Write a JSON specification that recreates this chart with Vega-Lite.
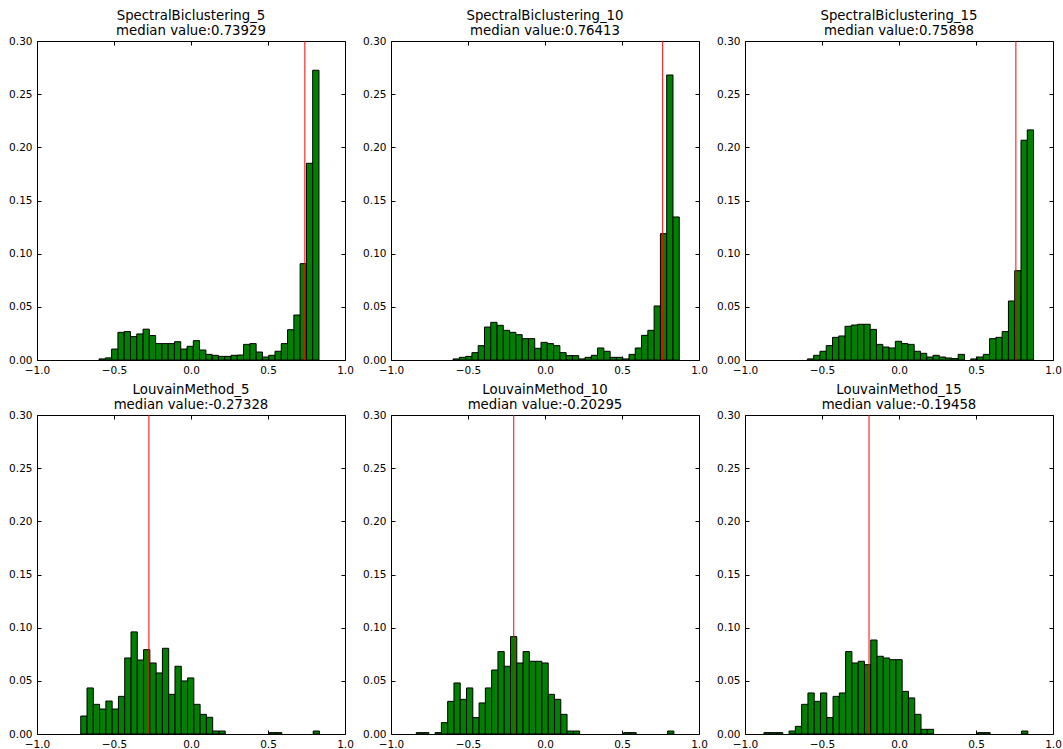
{
  "$schema": "https://vega.github.io/schema/vega-lite/v6.json",
  "background": "white",
  "padding": {"left": 8, "top": 8, "right": 5, "bottom": 5},
  "datasets": {
    "hist": [
      {"panel": "S5", "start": -0.597, "end": -0.5562, "density": 0.001},
      {"panel": "S5", "start": -0.5562, "end": -0.5154, "density": 0.002},
      {"panel": "S5", "start": -0.5154, "end": -0.4746, "density": 0.0103},
      {"panel": "S5", "start": -0.4746, "end": -0.4338, "density": 0.026},
      {"panel": "S5", "start": -0.4338, "end": -0.393, "density": 0.0267},
      {"panel": "S5", "start": -0.393, "end": -0.3522, "density": 0.022},
      {"panel": "S5", "start": -0.3522, "end": -0.3114, "density": 0.0245},
      {"panel": "S5", "start": -0.3114, "end": -0.2706, "density": 0.029},
      {"panel": "S5", "start": -0.2706, "end": -0.2298, "density": 0.023},
      {"panel": "S5", "start": -0.2298, "end": -0.189, "density": 0.0154},
      {"panel": "S5", "start": -0.189, "end": -0.1482, "density": 0.0154},
      {"panel": "S5", "start": -0.1482, "end": -0.1074, "density": 0.0154},
      {"panel": "S5", "start": -0.1074, "end": -0.0666, "density": 0.0172},
      {"panel": "S5", "start": -0.0666, "end": -0.0258, "density": 0.0103},
      {"panel": "S5", "start": -0.0258, "end": 0.015, "density": 0.0129},
      {"panel": "S5", "start": 0.015, "end": 0.0558, "density": 0.0182},
      {"panel": "S5", "start": 0.0558, "end": 0.0966, "density": 0.0094},
      {"panel": "S5", "start": 0.0966, "end": 0.1374, "density": 0.0053},
      {"panel": "S5", "start": 0.1374, "end": 0.1782, "density": 0.0044},
      {"panel": "S5", "start": 0.1782, "end": 0.219, "density": 0.0034},
      {"panel": "S5", "start": 0.219, "end": 0.2598, "density": 0.0034},
      {"panel": "S5", "start": 0.2598, "end": 0.3006, "density": 0.0044},
      {"panel": "S5", "start": 0.3006, "end": 0.3414, "density": 0.0047},
      {"panel": "S5", "start": 0.3414, "end": 0.3822, "density": 0.0147},
      {"panel": "S5", "start": 0.3822, "end": 0.423, "density": 0.0154},
      {"panel": "S5", "start": 0.423, "end": 0.4638, "density": 0.0075},
      {"panel": "S5", "start": 0.4638, "end": 0.5046, "density": 0.0028},
      {"panel": "S5", "start": 0.5046, "end": 0.5454, "density": 0.0044},
      {"panel": "S5", "start": 0.5454, "end": 0.5862, "density": 0.0082},
      {"panel": "S5", "start": 0.5862, "end": 0.627, "density": 0.0154},
      {"panel": "S5", "start": 0.627, "end": 0.6678, "density": 0.0285},
      {"panel": "S5", "start": 0.6678, "end": 0.7086, "density": 0.0423},
      {"panel": "S5", "start": 0.7086, "end": 0.7494, "density": 0.0906},
      {"panel": "S5", "start": 0.7494, "end": 0.7902, "density": 0.185},
      {"panel": "S5", "start": 0.7902, "end": 0.831, "density": 0.2725},

      {"panel": "S10", "start": -0.597, "end": -0.5562, "density": 0.001},
      {"panel": "S10", "start": -0.5562, "end": -0.5154, "density": 0.0025},
      {"panel": "S10", "start": -0.5154, "end": -0.4746, "density": 0.0034},
      {"panel": "S10", "start": -0.4746, "end": -0.4338, "density": 0.0069},
      {"panel": "S10", "start": -0.4338, "end": -0.393, "density": 0.0135},
      {"panel": "S10", "start": -0.393, "end": -0.3522, "density": 0.031},
      {"panel": "S10", "start": -0.3522, "end": -0.3114, "density": 0.0354},
      {"panel": "S10", "start": -0.3114, "end": -0.2706, "density": 0.0326},
      {"panel": "S10", "start": -0.2706, "end": -0.2298, "density": 0.0279},
      {"panel": "S10", "start": -0.2298, "end": -0.189, "density": 0.026},
      {"panel": "S10", "start": -0.189, "end": -0.1482, "density": 0.0238},
      {"panel": "S10", "start": -0.1482, "end": -0.1074, "density": 0.0201},
      {"panel": "S10", "start": -0.1074, "end": -0.0666, "density": 0.0201},
      {"panel": "S10", "start": -0.0666, "end": -0.0258, "density": 0.011},
      {"panel": "S10", "start": -0.0258, "end": 0.015, "density": 0.0166},
      {"panel": "S10", "start": 0.015, "end": 0.0558, "density": 0.0154},
      {"panel": "S10", "start": 0.0558, "end": 0.0966, "density": 0.0135},
      {"panel": "S10", "start": 0.0966, "end": 0.1374, "density": 0.0069},
      {"panel": "S10", "start": 0.1374, "end": 0.1782, "density": 0.0041},
      {"panel": "S10", "start": 0.1782, "end": 0.219, "density": 0.0041},
      {"panel": "S10", "start": 0.219, "end": 0.2598, "density": 0.001},
      {"panel": "S10", "start": 0.2598, "end": 0.3006, "density": 0.0025},
      {"panel": "S10", "start": 0.3006, "end": 0.3414, "density": 0.0044},
      {"panel": "S10", "start": 0.3414, "end": 0.3822, "density": 0.0113},
      {"panel": "S10", "start": 0.3822, "end": 0.423, "density": 0.0082},
      {"panel": "S10", "start": 0.423, "end": 0.4638, "density": 0.0025},
      {"panel": "S10", "start": 0.4638, "end": 0.5046, "density": 0.0025},
      {"panel": "S10", "start": 0.5046, "end": 0.5454, "density": 0.001},
      {"panel": "S10", "start": 0.5454, "end": 0.5862, "density": 0.0053},
      {"panel": "S10", "start": 0.5862, "end": 0.627, "density": 0.0113},
      {"panel": "S10", "start": 0.627, "end": 0.6678, "density": 0.0232},
      {"panel": "S10", "start": 0.6678, "end": 0.7086, "density": 0.0279},
      {"panel": "S10", "start": 0.7086, "end": 0.7494, "density": 0.0508},
      {"panel": "S10", "start": 0.7494, "end": 0.7902, "density": 0.1188},
      {"panel": "S10", "start": 0.7902, "end": 0.831, "density": 0.268},
      {"panel": "S10", "start": 0.831, "end": 0.8718, "density": 0.1345},

      {"panel": "S15", "start": -0.595, "end": -0.5542, "density": 0.001},
      {"panel": "S15", "start": -0.5542, "end": -0.5134, "density": 0.0044},
      {"panel": "S15", "start": -0.5134, "end": -0.4726, "density": 0.0082},
      {"panel": "S15", "start": -0.4726, "end": -0.4318, "density": 0.0135},
      {"panel": "S15", "start": -0.4318, "end": -0.391, "density": 0.0213},
      {"panel": "S15", "start": -0.391, "end": -0.3502, "density": 0.0226},
      {"panel": "S15", "start": -0.3502, "end": -0.3094, "density": 0.0317},
      {"panel": "S15", "start": -0.3094, "end": -0.2686, "density": 0.0329},
      {"panel": "S15", "start": -0.2686, "end": -0.2278, "density": 0.0336},
      {"panel": "S15", "start": -0.2278, "end": -0.187, "density": 0.0336},
      {"panel": "S15", "start": -0.187, "end": -0.1462, "density": 0.0288},
      {"panel": "S15", "start": -0.1462, "end": -0.1054, "density": 0.0147},
      {"panel": "S15", "start": -0.1054, "end": -0.0646, "density": 0.0122},
      {"panel": "S15", "start": -0.0646, "end": -0.0238, "density": 0.0113},
      {"panel": "S15", "start": -0.0238, "end": 0.017, "density": 0.0176},
      {"panel": "S15", "start": 0.017, "end": 0.0578, "density": 0.0154},
      {"panel": "S15", "start": 0.0578, "end": 0.0986, "density": 0.0147},
      {"panel": "S15", "start": 0.0986, "end": 0.1394, "density": 0.0082},
      {"panel": "S15", "start": 0.1394, "end": 0.1802, "density": 0.0063},
      {"panel": "S15", "start": 0.1802, "end": 0.221, "density": 0.0028},
      {"panel": "S15", "start": 0.221, "end": 0.2618, "density": 0.0044},
      {"panel": "S15", "start": 0.2618, "end": 0.3026, "density": 0.0028},
      {"panel": "S15", "start": 0.3026, "end": 0.3434, "density": 0.0019},
      {"panel": "S15", "start": 0.3434, "end": 0.3842, "density": 0.0013},
      {"panel": "S15", "start": 0.3842, "end": 0.425, "density": 0.0053},
      {"panel": "S15", "start": 0.4658, "end": 0.5066, "density": 0.001},
      {"panel": "S15", "start": 0.5066, "end": 0.5474, "density": 0.0028},
      {"panel": "S15", "start": 0.5474, "end": 0.5882, "density": 0.0053},
      {"panel": "S15", "start": 0.5882, "end": 0.629, "density": 0.0201},
      {"panel": "S15", "start": 0.629, "end": 0.6698, "density": 0.0213},
      {"panel": "S15", "start": 0.6698, "end": 0.7106, "density": 0.0267},
      {"panel": "S15", "start": 0.7106, "end": 0.7514, "density": 0.0555},
      {"panel": "S15", "start": 0.7514, "end": 0.7922, "density": 0.084},
      {"panel": "S15", "start": 0.7922, "end": 0.833, "density": 0.2067},
      {"panel": "S15", "start": 0.833, "end": 0.8738, "density": 0.2164},

      {"panel": "L5", "start": -0.716, "end": -0.6752, "density": 0.0169},
      {"panel": "L5", "start": -0.6752, "end": -0.6344, "density": 0.0433},
      {"panel": "L5", "start": -0.6344, "end": -0.5936, "density": 0.0279},
      {"panel": "L5", "start": -0.5936, "end": -0.5528, "density": 0.0235},
      {"panel": "L5", "start": -0.5528, "end": -0.512, "density": 0.031},
      {"panel": "L5", "start": -0.512, "end": -0.4712, "density": 0.0235},
      {"panel": "L5", "start": -0.4712, "end": -0.4304, "density": 0.0354},
      {"panel": "L5", "start": -0.4304, "end": -0.3896, "density": 0.0715},
      {"panel": "L5", "start": -0.3896, "end": -0.3488, "density": 0.096},
      {"panel": "L5", "start": -0.3488, "end": -0.308, "density": 0.0696},
      {"panel": "L5", "start": -0.308, "end": -0.2672, "density": 0.0793},
      {"panel": "L5", "start": -0.2672, "end": -0.2264, "density": 0.0668},
      {"panel": "L5", "start": -0.2264, "end": -0.1856, "density": 0.0574},
      {"panel": "L5", "start": -0.1856, "end": -0.1448, "density": 0.0806},
      {"panel": "L5", "start": -0.1448, "end": -0.104, "density": 0.0373},
      {"panel": "L5", "start": -0.104, "end": -0.0632, "density": 0.0637},
      {"panel": "L5", "start": -0.0632, "end": -0.0224, "density": 0.0499},
      {"panel": "L5", "start": -0.0224, "end": 0.0184, "density": 0.0527},
      {"panel": "L5", "start": 0.0184, "end": 0.0592, "density": 0.0279},
      {"panel": "L5", "start": 0.0592, "end": 0.1, "density": 0.0185},
      {"panel": "L5", "start": 0.1, "end": 0.1408, "density": 0.0157},
      {"panel": "L5", "start": 0.1408, "end": 0.1816, "density": 0.0028},
      {"panel": "L5", "start": 0.1816, "end": 0.2224, "density": 0.0028},
      {"panel": "L5", "start": 0.508, "end": 0.5488, "density": 0.0013},
      {"panel": "L5", "start": 0.5488, "end": 0.5896, "density": 0.0013},
      {"panel": "L5", "start": 0.7936, "end": 0.8344, "density": 0.0028},

      {"panel": "L10", "start": -0.836, "end": -0.7952, "density": 0.0013},
      {"panel": "L10", "start": -0.7952, "end": -0.7544, "density": 0.0013},
      {"panel": "L10", "start": -0.7136, "end": -0.6728, "density": 0.0013},
      {"panel": "L10", "start": -0.6728, "end": -0.632, "density": 0.0107},
      {"panel": "L10", "start": -0.632, "end": -0.5912, "density": 0.0307},
      {"panel": "L10", "start": -0.5912, "end": -0.5504, "density": 0.048},
      {"panel": "L10", "start": -0.5504, "end": -0.5096, "density": 0.0326},
      {"panel": "L10", "start": -0.5096, "end": -0.4688, "density": 0.0433},
      {"panel": "L10", "start": -0.4688, "end": -0.428, "density": 0.0154},
      {"panel": "L10", "start": -0.428, "end": -0.3872, "density": 0.0292},
      {"panel": "L10", "start": -0.3872, "end": -0.3464, "density": 0.0433},
      {"panel": "L10", "start": -0.3464, "end": -0.3056, "density": 0.0602},
      {"panel": "L10", "start": -0.3056, "end": -0.2648, "density": 0.0775},
      {"panel": "L10", "start": -0.2648, "end": -0.224, "density": 0.0637},
      {"panel": "L10", "start": -0.224, "end": -0.1832, "density": 0.0916},
      {"panel": "L10", "start": -0.1832, "end": -0.1424, "density": 0.0668},
      {"panel": "L10", "start": -0.1424, "end": -0.1016, "density": 0.0775},
      {"panel": "L10", "start": -0.1016, "end": -0.0608, "density": 0.0684},
      {"panel": "L10", "start": -0.0608, "end": -0.02, "density": 0.0684},
      {"panel": "L10", "start": -0.02, "end": 0.0208, "density": 0.0668},
      {"panel": "L10", "start": 0.0208, "end": 0.0616, "density": 0.0373},
      {"panel": "L10", "start": 0.0616, "end": 0.1024, "density": 0.0326},
      {"panel": "L10", "start": 0.1024, "end": 0.1432, "density": 0.0185},
      {"panel": "L10", "start": 0.1432, "end": 0.184, "density": 0.0028},
      {"panel": "L10", "start": 0.184, "end": 0.2248, "density": 0.0028},
      {"panel": "L10", "start": 0.5104, "end": 0.5512, "density": 0.0013},
      {"panel": "L10", "start": 0.5512, "end": 0.592, "density": 0.0013},
      {"panel": "L10", "start": 0.796, "end": 0.8368, "density": 0.0028},

      {"panel": "L15", "start": -0.877, "end": -0.8362, "density": 0.0013},
      {"panel": "L15", "start": -0.8362, "end": -0.7954, "density": 0.0013},
      {"panel": "L15", "start": -0.7954, "end": -0.7546, "density": 0.0013},
      {"panel": "L15", "start": -0.7138, "end": -0.673, "density": 0.0028},
      {"panel": "L15", "start": -0.673, "end": -0.6322, "density": 0.0072},
      {"panel": "L15", "start": -0.6322, "end": -0.5914, "density": 0.0279},
      {"panel": "L15", "start": -0.5914, "end": -0.5506, "density": 0.0386},
      {"panel": "L15", "start": -0.5506, "end": -0.5098, "density": 0.0307},
      {"panel": "L15", "start": -0.5098, "end": -0.469, "density": 0.0386},
      {"panel": "L15", "start": -0.469, "end": -0.4282, "density": 0.0154},
      {"panel": "L15", "start": -0.4282, "end": -0.3874, "density": 0.0354},
      {"panel": "L15", "start": -0.3874, "end": -0.3466, "density": 0.0386},
      {"panel": "L15", "start": -0.3466, "end": -0.3058, "density": 0.0775},
      {"panel": "L15", "start": -0.3058, "end": -0.265, "density": 0.0668},
      {"panel": "L15", "start": -0.265, "end": -0.2242, "density": 0.0684},
      {"panel": "L15", "start": -0.2242, "end": -0.1834, "density": 0.0652},
      {"panel": "L15", "start": -0.1834, "end": -0.1426, "density": 0.0884},
      {"panel": "L15", "start": -0.1426, "end": -0.1018, "density": 0.0731},
      {"panel": "L15", "start": -0.1018, "end": -0.061, "density": 0.0715},
      {"panel": "L15", "start": -0.061, "end": -0.0202, "density": 0.0699},
      {"panel": "L15", "start": -0.0202, "end": 0.0206, "density": 0.0699},
      {"panel": "L15", "start": 0.0206, "end": 0.0614, "density": 0.0401},
      {"panel": "L15", "start": 0.0614, "end": 0.1022, "density": 0.0339},
      {"panel": "L15", "start": 0.1022, "end": 0.143, "density": 0.0185},
      {"panel": "L15", "start": 0.143, "end": 0.1838, "density": 0.0044},
      {"panel": "L15", "start": 0.1838, "end": 0.2246, "density": 0.0044},
      {"panel": "L15", "start": 0.5102, "end": 0.551, "density": 0.0013},
      {"panel": "L15", "start": 0.551, "end": 0.5918, "density": 0.0013},
      {"panel": "L15", "start": 0.7958, "end": 0.8366, "density": 0.0028}
    ],
    "medians": [
      {"panel": "S5", "median": 0.73929},
      {"panel": "S10", "median": 0.76413},
      {"panel": "S15", "median": 0.75898},
      {"panel": "L5", "median": -0.27328},
      {"panel": "L10", "median": -0.20295},
      {"panel": "L15", "median": -0.19458}
    ]
  },
  "columns": 3,
  "spacing": {"row": 55, "column": 46},
  "bounds": "flush",
  "concat": [
    {
      "width": 308, "height": 319,
      "title": {"text": ["SpectralBiclustering_5", "median value:0.73929"]},
      "layer": [
        {"data": {"name": "hist"}, "transform": [{"filter": "datum.panel === 'S5'"}],
         "mark": {"type": "bar", "fill": "#008000", "stroke": "black", "strokeWidth": 1},
         "encoding": {
           "x": {"field": "start", "type": "quantitative", "scale": {"domain": [-1, 1], "nice": false, "zero": false}, "axis": {"orient": "bottom", "values": [-1, -0.5, 0, 0.5, 1], "format": ".1f", "title": null}},
           "x2": {"field": "end"},
           "y": {"field": "density", "type": "quantitative", "scale": {"domain": [0, 0.3], "nice": false}, "axis": {"orient": "left", "values": [0, 0.05, 0.1, 0.15, 0.2, 0.25, 0.3], "format": ".2f", "title": null}},
           "y2": {"datum": 0}}},
        {"data": {"name": "hist"}, "transform": [{"filter": "datum.panel === 'S5'"}],
         "mark": {"type": "bar", "opacity": 0},
         "encoding": {
           "x": {"field": "start", "type": "quantitative", "axis": {"orient": "top", "values": [-1, -0.5, 0, 0.5, 1], "labels": false, "title": null}},
           "x2": {"field": "end"},
           "y": {"field": "density", "type": "quantitative", "axis": {"orient": "right", "values": [0, 0.05, 0.1, 0.15, 0.2, 0.25, 0.3], "labels": false, "title": null}},
           "y2": {"datum": 0}}},
        {"data": {"name": "medians"}, "transform": [{"filter": "datum.panel === 'S5'"}],
         "mark": {"type": "rule", "color": "#ff0000", "strokeWidth": 1},
         "encoding": {"x": {"field": "median", "type": "quantitative", "axis": null}}}
      ],
      "resolve": {"axis": {"x": "independent", "y": "independent"}}
    },
    {
      "width": 308, "height": 319,
      "title": {"text": ["SpectralBiclustering_10", "median value:0.76413"]},
      "layer": [
        {"data": {"name": "hist"}, "transform": [{"filter": "datum.panel === 'S10'"}],
         "mark": {"type": "bar", "fill": "#008000", "stroke": "black", "strokeWidth": 1},
         "encoding": {
           "x": {"field": "start", "type": "quantitative", "scale": {"domain": [-1, 1], "nice": false, "zero": false}, "axis": {"orient": "bottom", "values": [-1, -0.5, 0, 0.5, 1], "format": ".1f", "title": null}},
           "x2": {"field": "end"},
           "y": {"field": "density", "type": "quantitative", "scale": {"domain": [0, 0.3], "nice": false}, "axis": {"orient": "left", "values": [0, 0.05, 0.1, 0.15, 0.2, 0.25, 0.3], "format": ".2f", "title": null}},
           "y2": {"datum": 0}}},
        {"data": {"name": "hist"}, "transform": [{"filter": "datum.panel === 'S10'"}],
         "mark": {"type": "bar", "opacity": 0},
         "encoding": {
           "x": {"field": "start", "type": "quantitative", "axis": {"orient": "top", "values": [-1, -0.5, 0, 0.5, 1], "labels": false, "title": null}},
           "x2": {"field": "end"},
           "y": {"field": "density", "type": "quantitative", "axis": {"orient": "right", "values": [0, 0.05, 0.1, 0.15, 0.2, 0.25, 0.3], "labels": false, "title": null}},
           "y2": {"datum": 0}}},
        {"data": {"name": "medians"}, "transform": [{"filter": "datum.panel === 'S10'"}],
         "mark": {"type": "rule", "color": "#ff0000", "strokeWidth": 1},
         "encoding": {"x": {"field": "median", "type": "quantitative", "axis": null}}}
      ],
      "resolve": {"axis": {"x": "independent", "y": "independent"}}
    },
    {
      "width": 308, "height": 319,
      "title": {"text": ["SpectralBiclustering_15", "median value:0.75898"]},
      "layer": [
        {"data": {"name": "hist"}, "transform": [{"filter": "datum.panel === 'S15'"}],
         "mark": {"type": "bar", "fill": "#008000", "stroke": "black", "strokeWidth": 1},
         "encoding": {
           "x": {"field": "start", "type": "quantitative", "scale": {"domain": [-1, 1], "nice": false, "zero": false}, "axis": {"orient": "bottom", "values": [-1, -0.5, 0, 0.5, 1], "format": ".1f", "title": null}},
           "x2": {"field": "end"},
           "y": {"field": "density", "type": "quantitative", "scale": {"domain": [0, 0.3], "nice": false}, "axis": {"orient": "left", "values": [0, 0.05, 0.1, 0.15, 0.2, 0.25, 0.3], "format": ".2f", "title": null}},
           "y2": {"datum": 0}}},
        {"data": {"name": "hist"}, "transform": [{"filter": "datum.panel === 'S15'"}],
         "mark": {"type": "bar", "opacity": 0},
         "encoding": {
           "x": {"field": "start", "type": "quantitative", "axis": {"orient": "top", "values": [-1, -0.5, 0, 0.5, 1], "labels": false, "title": null}},
           "x2": {"field": "end"},
           "y": {"field": "density", "type": "quantitative", "axis": {"orient": "right", "values": [0, 0.05, 0.1, 0.15, 0.2, 0.25, 0.3], "labels": false, "title": null}},
           "y2": {"datum": 0}}},
        {"data": {"name": "medians"}, "transform": [{"filter": "datum.panel === 'S15'"}],
         "mark": {"type": "rule", "color": "#ff0000", "strokeWidth": 1},
         "encoding": {"x": {"field": "median", "type": "quantitative", "axis": null}}}
      ],
      "resolve": {"axis": {"x": "independent", "y": "independent"}}
    },
    {
      "width": 308, "height": 319,
      "title": {"text": ["LouvainMethod_5", "median value:-0.27328"]},
      "layer": [
        {"data": {"name": "hist"}, "transform": [{"filter": "datum.panel === 'L5'"}],
         "mark": {"type": "bar", "fill": "#008000", "stroke": "black", "strokeWidth": 1},
         "encoding": {
           "x": {"field": "start", "type": "quantitative", "scale": {"domain": [-1, 1], "nice": false, "zero": false}, "axis": {"orient": "bottom", "values": [-1, -0.5, 0, 0.5, 1], "format": ".1f", "title": null}},
           "x2": {"field": "end"},
           "y": {"field": "density", "type": "quantitative", "scale": {"domain": [0, 0.3], "nice": false}, "axis": {"orient": "left", "values": [0, 0.05, 0.1, 0.15, 0.2, 0.25, 0.3], "format": ".2f", "title": null}},
           "y2": {"datum": 0}}},
        {"data": {"name": "hist"}, "transform": [{"filter": "datum.panel === 'L5'"}],
         "mark": {"type": "bar", "opacity": 0},
         "encoding": {
           "x": {"field": "start", "type": "quantitative", "axis": {"orient": "top", "values": [-1, -0.5, 0, 0.5, 1], "labels": false, "title": null}},
           "x2": {"field": "end"},
           "y": {"field": "density", "type": "quantitative", "axis": {"orient": "right", "values": [0, 0.05, 0.1, 0.15, 0.2, 0.25, 0.3], "labels": false, "title": null}},
           "y2": {"datum": 0}}},
        {"data": {"name": "medians"}, "transform": [{"filter": "datum.panel === 'L5'"}],
         "mark": {"type": "rule", "color": "#ff0000", "strokeWidth": 1},
         "encoding": {"x": {"field": "median", "type": "quantitative", "axis": null}}}
      ],
      "resolve": {"axis": {"x": "independent", "y": "independent"}}
    },
    {
      "width": 308, "height": 319,
      "title": {"text": ["LouvainMethod_10", "median value:-0.20295"]},
      "layer": [
        {"data": {"name": "hist"}, "transform": [{"filter": "datum.panel === 'L10'"}],
         "mark": {"type": "bar", "fill": "#008000", "stroke": "black", "strokeWidth": 1},
         "encoding": {
           "x": {"field": "start", "type": "quantitative", "scale": {"domain": [-1, 1], "nice": false, "zero": false}, "axis": {"orient": "bottom", "values": [-1, -0.5, 0, 0.5, 1], "format": ".1f", "title": null}},
           "x2": {"field": "end"},
           "y": {"field": "density", "type": "quantitative", "scale": {"domain": [0, 0.3], "nice": false}, "axis": {"orient": "left", "values": [0, 0.05, 0.1, 0.15, 0.2, 0.25, 0.3], "format": ".2f", "title": null}},
           "y2": {"datum": 0}}},
        {"data": {"name": "hist"}, "transform": [{"filter": "datum.panel === 'L10'"}],
         "mark": {"type": "bar", "opacity": 0},
         "encoding": {
           "x": {"field": "start", "type": "quantitative", "axis": {"orient": "top", "values": [-1, -0.5, 0, 0.5, 1], "labels": false, "title": null}},
           "x2": {"field": "end"},
           "y": {"field": "density", "type": "quantitative", "axis": {"orient": "right", "values": [0, 0.05, 0.1, 0.15, 0.2, 0.25, 0.3], "labels": false, "title": null}},
           "y2": {"datum": 0}}},
        {"data": {"name": "medians"}, "transform": [{"filter": "datum.panel === 'L10'"}],
         "mark": {"type": "rule", "color": "#ff0000", "strokeWidth": 1},
         "encoding": {"x": {"field": "median", "type": "quantitative", "axis": null}}}
      ],
      "resolve": {"axis": {"x": "independent", "y": "independent"}}
    },
    {
      "width": 308, "height": 319,
      "title": {"text": ["LouvainMethod_15", "median value:-0.19458"]},
      "layer": [
        {"data": {"name": "hist"}, "transform": [{"filter": "datum.panel === 'L15'"}],
         "mark": {"type": "bar", "fill": "#008000", "stroke": "black", "strokeWidth": 1},
         "encoding": {
           "x": {"field": "start", "type": "quantitative", "scale": {"domain": [-1, 1], "nice": false, "zero": false}, "axis": {"orient": "bottom", "values": [-1, -0.5, 0, 0.5, 1], "format": ".1f", "title": null}},
           "x2": {"field": "end"},
           "y": {"field": "density", "type": "quantitative", "scale": {"domain": [0, 0.3], "nice": false}, "axis": {"orient": "left", "values": [0, 0.05, 0.1, 0.15, 0.2, 0.25, 0.3], "format": ".2f", "title": null}},
           "y2": {"datum": 0}}},
        {"data": {"name": "hist"}, "transform": [{"filter": "datum.panel === 'L15'"}],
         "mark": {"type": "bar", "opacity": 0},
         "encoding": {
           "x": {"field": "start", "type": "quantitative", "axis": {"orient": "top", "values": [-1, -0.5, 0, 0.5, 1], "labels": false, "title": null}},
           "x2": {"field": "end"},
           "y": {"field": "density", "type": "quantitative", "axis": {"orient": "right", "values": [0, 0.05, 0.1, 0.15, 0.2, 0.25, 0.3], "labels": false, "title": null}},
           "y2": {"datum": 0}}},
        {"data": {"name": "medians"}, "transform": [{"filter": "datum.panel === 'L15'"}],
         "mark": {"type": "rule", "color": "#ff0000", "strokeWidth": 1},
         "encoding": {"x": {"field": "median", "type": "quantitative", "axis": null}}}
      ],
      "resolve": {"axis": {"x": "independent", "y": "independent"}}
    }
  ],
  "config": {
    "font": "DejaVu Sans",
    "view": {"stroke": "black", "strokeWidth": 1},
    "axis": {"grid": false, "domain": false, "tickColor": "black", "tickWidth": 1, "tickSize": -4, "labelPadding": 9, "labelColor": "black", "labelFont": "DejaVu Sans", "labelFontSize": 10.5, "labelFlush": false, "labelOverlap": false},
    "title": {"font": "DejaVu Sans", "fontSize": 13.3, "fontWeight": "normal", "color": "black", "offset": -1, "lineHeight": 15, "anchor": "middle"}
  }
}
